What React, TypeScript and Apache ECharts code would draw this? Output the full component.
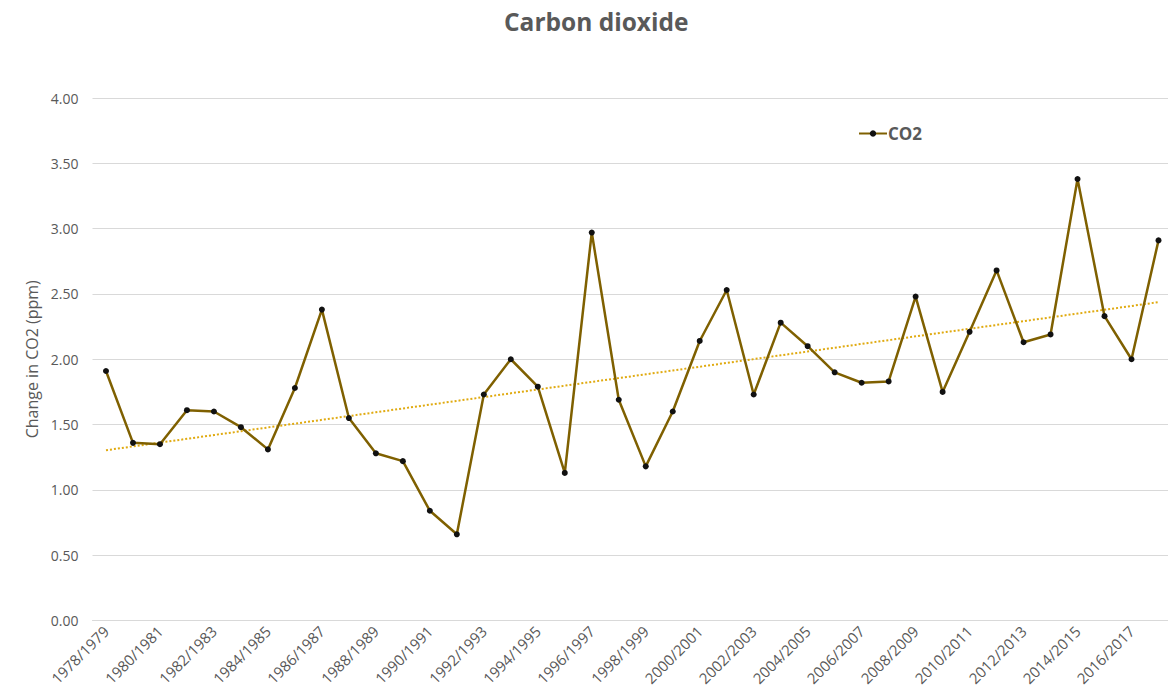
import React, { useEffect, useRef } from "react";
import * as echarts from "echarts";

const categories: string[] = [
  "1978/1979", "1979/1980", "1980/1981", "1981/1982", "1982/1983", "1983/1984", "1984/1985", "1985/1986",
  "1986/1987", "1987/1988", "1988/1989", "1989/1990", "1990/1991", "1991/1992", "1992/1993", "1993/1994",
  "1994/1995", "1995/1996", "1996/1997", "1997/1998", "1998/1999", "1999/2000", "2000/2001", "2001/2002",
  "2002/2003", "2003/2004", "2004/2005", "2005/2006", "2006/2007", "2007/2008", "2008/2009", "2009/2010",
  "2010/2011", "2011/2012", "2012/2013", "2013/2014", "2014/2015", "2015/2016", "2016/2017", "2017/2018",
];

const co2: number[] = [
  1.91, 1.36, 1.35, 1.61, 1.6, 1.48, 1.31, 1.78,
  2.38, 1.55, 1.28, 1.22, 0.84, 0.66, 1.73, 2.0,
  1.79, 1.13, 2.97, 1.69, 1.18, 1.6, 2.14, 2.53,
  1.73, 2.28, 2.1, 1.9, 1.82, 1.83, 2.48, 1.75,
  2.21, 2.68, 2.13, 2.19, 3.38, 2.33, 2.0, 2.91,
];

const yTicks: number[] = [0, 0.5, 1, 1.5, 2, 2.5, 3, 3.5, 4];

// Linear trendline (least squares) computed from the series
function linearTrend(values: number[]): number[] {
  const n = values.length;
  let sx = 0, sy = 0, sxy = 0, sxx = 0;
  values.forEach((v, i) => { sx += i; sy += v; sxy += i * v; sxx += i * i; });
  const slope = (n * sxy - sx * sy) / (n * sxx - sx * sx);
  const intercept = (sy - slope * sx) / n;
  return values.map((_, i) => +(intercept + slope * i).toFixed(4));
}

const textColor = "#595959";
const font = "'Open Sans', sans-serif";

export default function App() {
  const ref = useRef<HTMLDivElement>(null);
  useEffect(() => {
    if (!ref.current) return;
    const chart = echarts.init(ref.current, undefined, { renderer: "svg" });
    chart.setOption({
      animation: false,
      backgroundColor: "#ffffff",
      title: {
        text: "Carbon dioxide",
        left: 499,
        top: 4,
        textStyle: { color: textColor, fontFamily: font, fontWeight: "bold", fontSize: 24.5 },
      },
      legend: {
        data: ["CO2"],
        left: 853,
        top: 120,
        itemWidth: 28,
        itemHeight: 8,
        itemGap: 4,
        textStyle: { color: textColor, fontFamily: font, fontWeight: "bold", fontSize: 17, padding: [0, 0, 0, -4] },
      },
      grid: { left: 92.5, top: 98, right: 8, bottom: 76.5, containLabel: false },
      xAxis: {
        type: "category",
        data: categories,
        boundaryGap: true,
        axisLine: { show: true, lineStyle: { color: "#d9d9d9", width: 1 } },
        axisTick: { show: false },
        axisLabel: {
          interval: 1,
          rotate: 45,
          color: textColor,
          fontFamily: font,
          fontSize: 15,
          margin: 8,
        },
      },
      yAxis: {
        type: "value",
        min: yTicks[0],
        max: yTicks[yTicks.length - 1],
        interval: 0.5,
        name: "Change in CO2 (ppm)",
        nameLocation: "middle",
        nameGap: 48,
        nameTextStyle: { color: textColor, fontFamily: font, fontSize: 16 },
        axisLine: { show: false },
        axisTick: { show: false },
        splitLine: { lineStyle: { color: "#d9d9d9", width: 1 } },
        axisLabel: {
          color: textColor,
          fontFamily: font,
          fontSize: 14,
          margin: 14,
          formatter: (v: number) => v.toFixed(2),
        },
      },
      series: [
        {
          name: "CO2",
          type: "line",
          data: co2,
          symbol: "circle",
          symbolSize: 6,
          lineStyle: { color: "#7f6000", width: 2.5 },
          itemStyle: { color: "#111111" },
          z: 3,
        },
        {
          name: "Trend",
          type: "line",
          data: linearTrend(co2),
          symbol: "none",
          lineStyle: { color: "#e0aa10", width: 2, type: [2, 2] },
          z: 2,
        },
      ],
    });
    return () => chart.dispose();
  }, []);
  return (
    <div
      ref={ref}
      style={{ position: "fixed", left: 0, top: 0, width: 1180, height: 697 }}
    />
  );
}
